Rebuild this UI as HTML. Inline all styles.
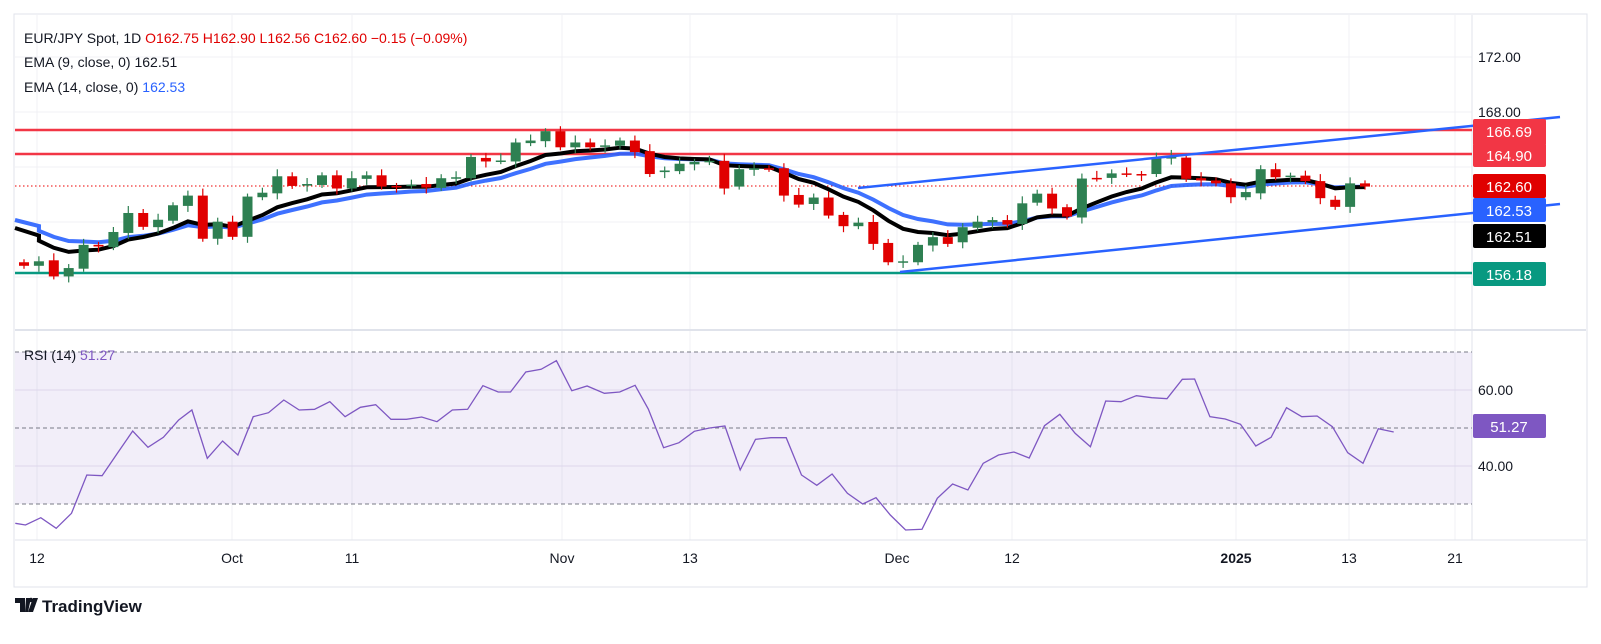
<!DOCTYPE html>
<html><head><meta charset="utf-8"><style>
body{margin:0;background:#fff;width:1601px;height:644px;overflow:hidden;font-family:"Liberation Sans",sans-serif}
svg{position:absolute;left:0;top:0}
</style></head><body>
<svg id="s" width="1601" height="644" xmlns="http://www.w3.org/2000/svg" font-family="Liberation Sans, sans-serif"></svg>
<script>
const s=document.getElementById('s');
let h='';
// frame
h+='<rect x="14" y="14" width="1573" height="573" fill="#fff" stroke="#e0e3eb"/>';
// grids
[37,232,352,562,690,897,1012,1236,1349,1455].forEach(x=>h+=`<line x1="${x}" y1="15" x2="${x}" y="" y2="540" stroke="#f0f1f4"/>`);
[57,112,167,222,277].forEach(y=>h+=`<line x1="15" y1="${y}" x2="1472" y2="${y}" stroke="#f0f1f4"/>`);
[390,466].forEach(y=>h+=`<line x1="15" y1="${y}" x2="1472" y2="${y}" stroke="#e8e6f0"/>`);
h+='<line x1="15" y1="330" x2="1586" y2="330" stroke="#e0e3eb" stroke-width="2"/>';
h+='<line x1="15" y1="540" x2="1586" y2="540" stroke="#e0e3eb"/>';
h+='<line x1="1472" y1="15" x2="1472" y2="540" stroke="#e0e3eb"/>';
// RSI band
h+='<rect x="15" y="352" width="1457" height="152" fill="#7e57c2" fill-opacity="0.1"/>';
[352,428,504].forEach(y=>h+=`<line x1="15" y1="${y}" x2="1472" y2="${y}" stroke="#787b86" stroke-dasharray="4,3"/>`);
// levels
h+='<line x1="15" y1="130" x2="1472" y2="130" stroke="#f23645" stroke-width="2.5"/>';
h+='<line x1="15" y1="154" x2="1472" y2="154" stroke="#f23645" stroke-width="2.5"/>';
h+='<line x1="15" y1="273" x2="1472" y2="273" stroke="#089981" stroke-width="2.5"/>';
h+='<line x1="15" y1="186" x2="1472" y2="186" stroke="#e00" stroke-dasharray="1.5,2.5"/>';
// candles: [color g/r, top z, bottom z]
const c1=[['r',507,518],['g',504,518],['r',501,551],['g',525,551],['g',453,527],['r',453,458],['g',413,460],['g',354,416],['r',354,397],['g',375,398],['g',330,378],['g',300,332],['r',300,434],['g',381,434],['r',381,428],['g',303,428],['g',291,305],['g',240,293],['r',240,270],['g',264,269],['g',237,267],['r',237,278],['g',246,278],['g',237,248],['r',237,272],['r',270,272],['g',266,270],['r',264,275],['g',246,276],['g',243,245],['g',180,246],['r',183,194],['g',191,193],['g',135,194],['g',129,137],['g',100,131],['r',100,150],['g',135,150],['r',135,150],['g',144,148],['g',129,145],['r',129,165],['r',162,233],['g',222,227],['g',201,224],['g',195,203],['g',192,196],['r',192,278],['g',218,272],['g',215,220],['r',215,217],
['r',215,300],['r',298,328],['g',306,326],['r',306,362],['r',360,395],['g',384,395],['r',382,450],['r',447,507],['g',504,506],['g',453,507],['g',429,455],['r',429,450],['g',398,445],['g',381,400],['g',376,383],['r',376,390],['g',324,388],['g',294,322],['r',294,340],['r',336,365],['g',247,368],['r',245,247],['g',231,245],['r',231,233],['r',233,236],['g',182,233],['g',180,185],['r',182,248],['r',246,253],['r',253,262],['r',262,305],['g',289,305],['g',218,293],['r',218,243],['g',238,241],['r',238,255],['r',255,308],['r',313,335],['g',262,335],['r',262,272]];
const Y=z=>99+z*0.322;
const closes=[];
let cs='';
c1.forEach((c,i)=>{const x=24+i*14.9;const t=Y(c[1]),b=Y(c[2]);const col=c[0]=='g'?'#2e8052':'#e00000';
 const close=c[0]=='g'?t:b;closes.push(close);
 const wt=t-3-((i*7)%5),wb=b+3+((i*3)%6);
 cs+=`<line x1="${x}" y1="${wt}" x2="${x}" y2="${wb}" stroke="${col}" stroke-width="1.2"/>`;
 cs+=`<rect x="${x-5}" y="${t}" width="10" height="${Math.max(1.5,b-t)}" fill="${col}"/>`;});
// EMA
function ema(n,init){let k=2/(n+1),v=init,p=[];closes.forEach((c,i)=>{v=c*k+v*(1-k);p.push((15+ (i?24+i*14.9-15:24)).toFixed(1)+','+v.toFixed(1));});return 'M15,'+init+' L'+p.join(' L');}
h+=`<path d="${ema(14,220)}" fill="none" stroke="#2962ff" stroke-width="4" stroke-opacity="0.9"/>`;
h+=`<path d="${ema(9,228)}" fill="none" stroke="#000" stroke-width="4"/>`;
h+=cs;
// trend lines
h+='<line x1="858" y1="188" x2="1560" y2="117" stroke="#2962ff" stroke-width="2.5"/>';
h+='<line x1="900" y1="272" x2="1560" y2="204" stroke="#2962ff" stroke-width="2.5"/>';
// RSI
const r=[[15,580],[25,585],[40,563],[55,595],[70,550],[85,435],[100,437],[115,370],[130,303],[145,352],[160,322],[175,270],[188,240],[203,385],[218,333],[233,375],[248,260],[263,248],[278,210],[293,240],[308,238],[323,215],[338,260],[353,232],[368,224],[383,268],[398,268],[413,261],[428,275],[443,240],[458,238],[473,167],[488,186],[500,186],[515,126],[530,118],[545,92],[560,182],[575,168],[592,190],[607,186],[622,166],[635,237],[650,353],[665,338],[680,304],[695,294],[710,288],[725,420],[740,328],[755,323],[770,323],[785,435],[800,466],[815,432],[830,490],[845,522],[858,503],[872,555],[887,600],[903,598],[918,505],[933,462],[948,480],[963,400],[978,375],[993,366],[1008,384],[1023,287],[1038,253],[1053,310],[1068,350],[1083,213],[1098,215],[1113,197],[1128,203],[1143,206],[1158,148],[1170,147],[1185,260],[1200,267],[1215,283],[1230,348],[1245,322],[1260,233],[1275,260],[1290,258],[1305,290],[1320,368],[1335,400],[1350,296],[1365,306]];
h+=`<polyline points="${r.map(p=>(p[0]*1.021).toFixed(1)+','+(330+p[1]/3).toFixed(1)).join(' ')}" fill="none" stroke="#7e57c2" stroke-width="1.3"/>`;
// right axis
const tx=(x,y,t,c,extra)=>`<text x="${x}" y="${y}" fill="${c}" font-size="14" ${extra||''}>${t}</text>`;
h+=tx(1478,62,'172.00','#131722');h+=tx(1478,117,'168.00','#131722');h+=tx(1478,395,'60.00','#131722');h+=tx(1478,471,'40.00','#131722');
const box=(y,t,bg)=>`<rect x="1473" y="${y-12}" width="73" height="24" rx="2" fill="${bg}"/><text x="1509" y="${y+6}" fill="#fff" font-size="15" text-anchor="middle">${t}</text>`;
h+=box(131,'166.69','#f23645');h+='<rect x="1473" y="140" width="73" height="4" fill="#f23645"/>';h+=box(155,'164.90','#f23645');
h+=box(186,'162.60','#e00000');h+=box(210,'162.53','#2962ff');h+=box(236,'162.51','#000');h+=box(274,'156.18','#089981');h+=box(426,'51.27','#7e57c2');
// x labels
[[37,'12'],[232,'Oct'],[352,'11'],[562,'Nov'],[690,'13'],[897,'Dec'],[1012,'12'],[1349,'13'],[1455,'21']].forEach(a=>h+=tx(a[0],563,a[1],'#131722','text-anchor="middle"'));
h+=tx(1236,563,'2025','#131722','text-anchor="middle" font-weight="bold"');
// header
h+=`<text x="24" y="43" font-size="14" fill="#131722">EUR/JPY Spot, 1D <tspan fill="#e00000">O162.75 H162.90 L162.56 C162.60 −0.15 (−0.09%)</tspan></text>`;
h+=`<text x="24" y="67" font-size="14" fill="#131722">EMA (9, close, 0) <tspan>162.51</tspan></text>`;
h+=`<text x="24" y="92" font-size="14" fill="#131722">EMA (14, close, 0) <tspan fill="#2962ff">162.53</tspan></text>`;
h+=`<text x="24" y="360" font-size="14" fill="#131722">RSI (14) <tspan fill="#7e57c2">51.27</tspan></text>`;
// logo
h+='<path d="M15 598h10v14h-5v-9h-5z M26 598h5l-3 14h-3z" fill="#131722"/><circle cx="31" cy="600" r="2.2" fill="#131722"/><path d="M33 598h5l-5 14h-5z" fill="#131722"/>';
h+=`<text x="42" y="612" font-size="17" fill="#131722" font-weight="bold">TradingView</text>`;
s.innerHTML=h;
</script>
</body></html>
